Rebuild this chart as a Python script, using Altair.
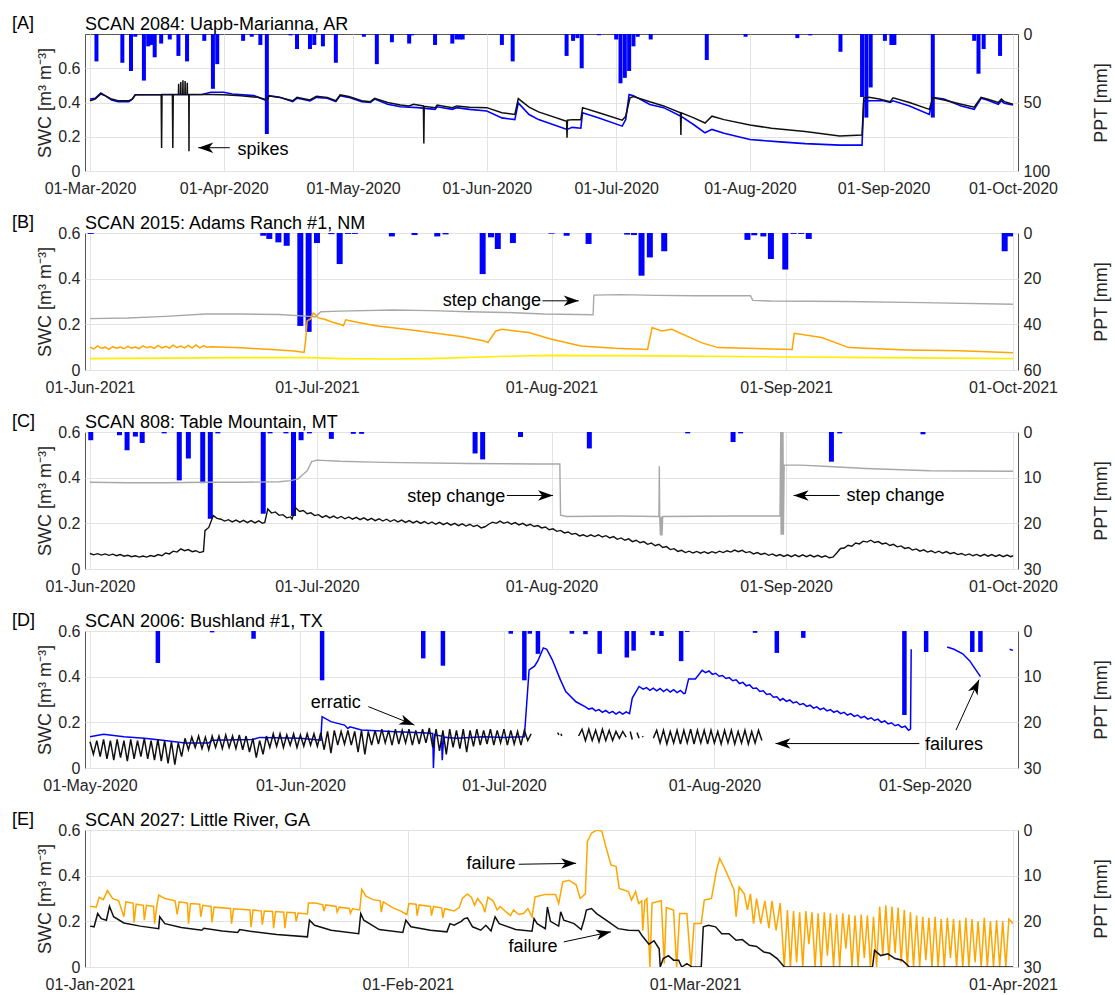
import math
from datetime import datetime, timezone
import altair as alt
import pandas as pd

FONT = "Liberation Sans"
W, H = 933, 137
DAY = 86400000
GRID = "#e3e3e3"
TXT = "#262626"
FRAME = "#555555"
BLUE = "#0000FF"
BLACK = "#111111"
GRAY = "#a8a8a8"
ORANGE = "#FFA500"
YELLOW = "#FFEE00"

# ---------------- Panel A: SCAN 2084 (day offsets from 2020-03-01) ----------------
A_ppt = [(1.5, 20), (7.5, 21), (9.5, 27), (10.5, 2), (12.5, 34), (13.5, 9), (14.2, 8), (15, 17), (16.5, 7),
         (18.5, 4), (20.5, 16), (22.5, 20), (26.5, 5), (28.5, 40), (29.5, 22), (35.5, 5), (37.5, 2), (39.5, 8),
         (41, 73), (46.5, 1), (48, 11), (51, 11), (52, 8), (54, 9), (57, 21), (63.5, 2), (66.5, 22), (70, 6),
         (74, 7), (74.6, 1), (80, 8), (84, 7), (85, 4), (85.8, 4), (86.4, 4), (95.5, 8), (98, 20), (110.5, 16),
         (112, 5), (113, 3), (114, 25), (118, 1), (122, 4), (123, 36), (124, 32), (125, 27), (126, 9), (127, 2),
         (130, 4), (143, 19), (152, 2), (164, 3), (167, 1), (174, 13), (179, 46), (180, 61), (181, 39),
         (184.3, 5), (185.8, 8), (186.5, 8), (195.4, 61), (205, 5), (206, 29), (207.2, 11), (211, 16)]
A_black = [(0, 0.41), (1.2, 0.42), (2.5, 0.45), (3.5, 0.44), (5, 0.42), (6.5, 0.41), (9, 0.41), (9.8, 0.42),
           (10.5, 0.445), (16.5, 0.447), (16.6, 0.135), (16.7, 0.447), (19.1, 0.447), (19.2, 0.135),
           (19.3, 0.447), (20.5, 0.447), (20.55, 0.51), (20.6, 0.447), (21.0, 0.447), (21.05, 0.52),
           (21.1, 0.447), (21.5, 0.447), (21.55, 0.53), (21.6, 0.447), (22.0, 0.447), (22.05, 0.525),
           (22.1, 0.447), (22.5, 0.447), (22.55, 0.515), (22.6, 0.447), (22.9, 0.447), (22.95, 0.115),
           (23.0, 0.447), (28, 0.447), (31, 0.445), (35, 0.44), (39, 0.43), (41, 0.415), (41.5, 0.438),
           (44, 0.43), (47, 0.41), (48, 0.43), (49, 0.425), (51, 0.415), (52.5, 0.437), (55, 0.43), (57, 0.41),
           (58, 0.445), (60, 0.435), (63, 0.41), (65, 0.405), (66, 0.425), (69, 0.40), (72, 0.385), (74, 0.38),
           (75, 0.39), (77.3, 0.38), (77.4, 0.16), (77.5, 0.378), (80, 0.37), (80.5, 0.385), (84, 0.37),
           (85, 0.38), (88, 0.372), (92, 0.37), (95.5, 0.34), (98.5, 0.33), (99.3, 0.423), (101.8, 0.373),
           (104, 0.345), (110.5, 0.29), (110.6, 0.194), (110.7, 0.297), (111.8, 0.30), (113.8, 0.30),
           (114.2, 0.37), (118, 0.34), (123.4, 0.297), (124.2, 0.32), (125.2, 0.427), (126, 0.435),
           (129.8, 0.404), (133, 0.38), (136.9, 0.34), (137, 0.21), (137.1, 0.34), (140, 0.31), (142.6, 0.28),
           (144.2, 0.32), (147, 0.30), (153, 0.268), (158, 0.25), (165.8, 0.23), (173.8, 0.204), (179, 0.21),
           (179.4, 0.427), (180.6, 0.43), (183, 0.42), (185.5, 0.405), (186.2, 0.427), (190, 0.40),
           (194.6, 0.36), (195.4, 0.427), (198, 0.415), (202, 0.39), (205, 0.373), (206.6, 0.43), (208, 0.42),
           (210.6, 0.40), (211.3, 0.42), (212, 0.405), (214, 0.39)]
A_blue = [(0, 0.42), (1.2, 0.425), (2.5, 0.455), (3.5, 0.44), (5, 0.415), (6.5, 0.405), (9, 0.405), (9.8, 0.42),
          (10.5, 0.445), (26, 0.447), (28, 0.46), (31, 0.46), (33, 0.45), (38, 0.44), (41, 0.41), (41.5, 0.44),
          (44, 0.43), (47, 0.405), (48, 0.425), (49, 0.42), (51, 0.41), (52.5, 0.43), (55, 0.425), (57, 0.405),
          (58, 0.44), (60, 0.43), (63, 0.405), (65, 0.40), (66, 0.42), (69, 0.39), (72, 0.375), (76, 0.37),
          (80, 0.36), (80.5, 0.375), (84, 0.36), (85, 0.37), (88, 0.36), (92, 0.35), (95.5, 0.31), (98.5, 0.30),
          (99.3, 0.398), (101.8, 0.33), (104, 0.30), (110.6, 0.243), (111.8, 0.255), (113.8, 0.25),
          (114.2, 0.34), (118, 0.31), (123.4, 0.262), (124.2, 0.30), (125, 0.447), (126, 0.44), (129.8, 0.388),
          (133, 0.37), (137, 0.32), (140, 0.27), (142.6, 0.223), (144.2, 0.243), (147, 0.22), (153, 0.184),
          (160, 0.17), (165.8, 0.16), (173.8, 0.151), (179, 0.151), (179.4, 0.408), (181, 0.41), (184, 0.41),
          (185.5, 0.40), (186.2, 0.41), (190, 0.38), (194.6, 0.33), (195.4, 0.43), (198, 0.42), (202, 0.38),
          (205, 0.36), (206.6, 0.425), (208, 0.415), (210.6, 0.39), (211.3, 0.41), (212, 0.395), (214, 0.385)]

# ---------------- Panel B: SCAN 2015 (day offsets from 2021-06-01) ----------------
B_ppt = [(0.1, 0.4), (22.9, 1.2), (23.7, 2.6), (24.9, 4.1), (26.0, 5.6), (27.8, 40.7), (28.9, 43.3), (30.0, 4.4),
         (31.9, 0.5), (33.0, 13.6), (34.1, 0.4), (35.0, 0.4), (39.9, 1.5), (42.9, 0.9), (45.9, 1.5), (47.0, 0.6),
         (51.9, 18), (53.0, 1.9), (53.9, 7), (55.9, 4.4), (61, 0.3), (63, 1.2), (65.9, 4.8), (71, 0.7),
         (71.9, 0.9), (72.9, 18.7), (74, 10.7), (75.9, 8), (86.9, 3), (87.8, 1), (89, 1.5), (90, 11.4),
         (91.9, 16), (93, 0.4), (94, 0.4), (95, 2.6), (120.9, 8), (121.6, 1.5)]
B_gray = [(0, 0.225), (5, 0.228), (10, 0.235), (15.2, 0.245), (20, 0.245), (25, 0.243), (29, 0.235),
          (29.8, 0.232), (30.5, 0.255), (33, 0.258), (40, 0.263), (45, 0.26), (50, 0.255), (55, 0.252),
          (60, 0.245), (66.5, 0.242), (66.6, 0.328), (70, 0.33), (75, 0.327), (80, 0.325), (87.3, 0.325),
          (87.6, 0.305), (90, 0.302), (100, 0.30), (110, 0.295), (122, 0.288)]
B_orange = [(0, 0.10), (0.5, 0.092), (1, 0.105), (1.5, 0.095), (2, 0.10), (2.5, 0.09), (3, 0.102), (3.5, 0.095),
            (4, 0.10), (4.5, 0.093), (5, 0.104), (5.5, 0.096), (6, 0.101), (6.5, 0.094), (7, 0.106), (7.5, 0.098),
            (8, 0.103), (8.5, 0.095), (9, 0.108), (9.5, 0.097), (10, 0.104), (10.5, 0.096), (11, 0.109),
            (11.5, 0.098), (12, 0.105), (12.5, 0.097), (13, 0.108), (13.5, 0.096), (14, 0.11), (14.5, 0.097),
            (15, 0.106), (15.5, 0.10), (16, 0.102), (20, 0.097), (24, 0.09), (27, 0.083), (28.3, 0.077),
            (28.5, 0.13), (28.7, 0.215), (29.2, 0.225), (29.5, 0.25), (29.7, 0.245), (30.2, 0.228), (31, 0.222),
            (32, 0.21), (33, 0.20), (33.5, 0.195), (33.8, 0.22), (34.5, 0.215), (36, 0.205), (38, 0.193),
            (40, 0.185), (43, 0.173), (46, 0.16), (49, 0.147), (52, 0.128), (52.6, 0.12), (53.2, 0.15),
            (53.6, 0.17), (54.4, 0.178), (56.2, 0.171), (58, 0.164), (61, 0.135), (64.9, 0.105), (69.4, 0.095),
            (73.7, 0.09), (74.3, 0.186), (75.5, 0.171), (76.9, 0.178), (80.8, 0.12), (83, 0.098), (88, 0.094),
            (92.8, 0.09), (93.1, 0.161), (96.7, 0.142), (100.3, 0.098), (108, 0.088), (115, 0.084), (122, 0.076)]
B_yellow = [(0, 0.05), (10, 0.052), (20, 0.054), (29, 0.054), (33, 0.05), (40, 0.048), (45, 0.05), (55, 0.06),
            (61, 0.064), (75, 0.062), (92, 0.057), (105, 0.054), (122, 0.05)]

# ---------------- Panel C: SCAN 808 (day offsets from 2020-06-01) ----------------
C_ppt = [(0.1, 1.8), (3.9, 0.7), (4.9, 4), (6, 1), (6.9, 2.4), (9.8, 0.3), (11.8, 10.6), (13, 5.8), (14.9, 11.2),
         (15.9, 19), (16.9, 0.3), (22.9, 17.9), (23.8, 0.3), (25.9, 0.3), (26.9, 18.4), (27.9, 1.8), (29, 0.3),
         (31.9, 1.5), (34.8, 0.4), (35.9, 0.4), (50.9, 4.7), (51.9, 6), (56.9, 1.1), (66, 3.6), (79, 0.3),
         (85, 2.2), (86, 0.3), (98, 6.5), (99.1, 0.3), (110.1, 0.5)]
C_gray = [(0, 0.38), (5, 0.378), (10, 0.378), (15, 0.38), (20, 0.38), (25, 0.382), (26.5, 0.387), (27.5, 0.395),
          (28.2, 0.415), (28.7, 0.43), (29.3, 0.47), (30, 0.477), (33, 0.472), (38.7, 0.467), (50, 0.462),
          (59, 0.46), (62.1, 0.46), (62.2, 0.236), (63, 0.23), (70, 0.232), (75.2, 0.23), (75.25, 0.45),
          (75.3, 0.23), (75.4, 0.147), (75.5, 0.23), (75.6, 0.147), (75.7, 0.23), (85, 0.232), (91.2, 0.232),
          (91.3, 0.6), (91.35, 0.15), (91.45, 0.6), (91.5, 0.15), (91.6, 0.6), (91.65, 0.15), (91.75, 0.455),
          (94, 0.455), (97, 0.45), (102.5, 0.44), (111, 0.43), (122, 0.428)]
# black sensor: wiggly diurnal record, read at its daily highs and lows
C_black = [(0, 0.068), (0.5, 0.062), (1, 0.067), (1.5, 0.061), (2, 0.066), (2.5, 0.06), (3, 0.065), (3.5, 0.058),
           (4, 0.063), (4.5, 0.056), (5, 0.06), (5.5, 0.054), (6, 0.058), (6.5, 0.052), (7, 0.057), (7.5, 0.052),
           (8, 0.059), (8.5, 0.055), (9, 0.063), (9.5, 0.058), (10, 0.07), (10.5, 0.066), (11, 0.078),
           (11.5, 0.074), (12, 0.088), (12.5, 0.08), (13, 0.085), (13.5, 0.076), (14, 0.08), (14.5, 0.072),
           (15, 0.077), (15.2, 0.168), (15.7, 0.182), (16.3, 0.234), (16.8, 0.222), (17.3, 0.218), (17.8, 0.21),
           (18.3, 0.216), (18.8, 0.206), (19.3, 0.214), (19.8, 0.205), (20.3, 0.213), (20.8, 0.203),
           (21.3, 0.212), (21.8, 0.202), (22.3, 0.211), (22.8, 0.20), (23.1, 0.204), (23.5, 0.263), (24.0, 0.245),
           (24.5, 0.25), (25, 0.235), (25.5, 0.238), (26, 0.224), (26.5, 0.228), (26.7, 0.219), (27.2, 0.267),
           (27.7, 0.252), (28.2, 0.256), (28.7, 0.242), (29.2, 0.246), (29.7, 0.234), (30.2, 0.238),
           (30.7, 0.226), (31.2, 0.234), (31.7, 0.224), (32.2, 0.232), (32.7, 0.222), (33.2, 0.23), (33.7, 0.22),
           (34.2, 0.228), (34.7, 0.218), (35.2, 0.226), (35.7, 0.216), (36.2, 0.224), (36.7, 0.214),
           (37.2, 0.222), (37.7, 0.212), (38.2, 0.22), (38.7, 0.21), (39.2, 0.218), (39.7, 0.208), (40.2, 0.216),
           (40.7, 0.206), (41.2, 0.214), (41.7, 0.204), (42.2, 0.212), (42.7, 0.202), (43.2, 0.21), (43.7, 0.20),
           (44.2, 0.208), (44.7, 0.198), (45.2, 0.206), (45.7, 0.196), (46.2, 0.204), (46.7, 0.194),
           (47.2, 0.202), (47.7, 0.192), (48.2, 0.20), (48.7, 0.19), (49.2, 0.198), (49.7, 0.188), (50.2, 0.196),
           (50.7, 0.186), (51.2, 0.192), (51.7, 0.18), (52.2, 0.185), (52.7, 0.196), (53.2, 0.205), (53.7, 0.20),
           (54.2, 0.21), (54.7, 0.20), (55.2, 0.206), (55.7, 0.196), (56.2, 0.203), (56.7, 0.193), (57.2, 0.20),
           (57.7, 0.19), (58.2, 0.196), (58.7, 0.186), (59.2, 0.19), (59.7, 0.18), (60.2, 0.184), (60.7, 0.172),
           (61.2, 0.176), (61.7, 0.165), (62.2, 0.169), (62.7, 0.158), (63.2, 0.162), (63.7, 0.152),
           (64.2, 0.156), (64.7, 0.145), (65.2, 0.15), (65.7, 0.142), (66.2, 0.15), (66.7, 0.142), (67.2, 0.15),
           (67.7, 0.14), (68.2, 0.146), (68.7, 0.136), (69.2, 0.142), (69.7, 0.13), (70.2, 0.136), (70.7, 0.126),
           (71.2, 0.132), (71.7, 0.12), (72.2, 0.126), (72.7, 0.115), (73.2, 0.12), (73.7, 0.108), (74.2, 0.114),
           (74.7, 0.102), (75.2, 0.108), (75.7, 0.094), (76.2, 0.098), (76.7, 0.085), (77.2, 0.089),
           (77.7, 0.077), (78.2, 0.082), (78.7, 0.072), (79.2, 0.078), (79.7, 0.07), (80.2, 0.077), (80.7, 0.069),
           (81.2, 0.076), (81.7, 0.068), (82.2, 0.076), (82.7, 0.07), (83.2, 0.078), (83.7, 0.072), (84.2, 0.08),
           (84.7, 0.074), (85.2, 0.083), (85.7, 0.076), (86.2, 0.082), (86.7, 0.072), (87.2, 0.076),
           (87.7, 0.066), (88.2, 0.072), (88.7, 0.064), (89.2, 0.069), (89.7, 0.06), (90.2, 0.066), (90.7, 0.057),
           (91.2, 0.063), (91.7, 0.055), (92.2, 0.062), (92.7, 0.054), (93.2, 0.062), (93.7, 0.054),
           (94.2, 0.062), (94.7, 0.054), (95.2, 0.061), (95.7, 0.053), (96.2, 0.06), (96.7, 0.052), (97.2, 0.058),
           (97.7, 0.049), (98.2, 0.052), (98.7, 0.07), (99.2, 0.09), (99.7, 0.092), (100.2, 0.104), (100.7, 0.10),
           (101.2, 0.114), (101.7, 0.11), (102.2, 0.122), (102.7, 0.118), (103.2, 0.126), (103.7, 0.116),
           (104.2, 0.12), (104.7, 0.11), (105.2, 0.114), (105.7, 0.103), (106.2, 0.108), (106.7, 0.097),
           (107.2, 0.101), (107.7, 0.09), (108.2, 0.094), (108.7, 0.083), (109.2, 0.088), (109.7, 0.078),
           (110.2, 0.084), (110.7, 0.074), (111.2, 0.08), (111.7, 0.071), (112.2, 0.078), (112.7, 0.069),
           (113.2, 0.076), (113.7, 0.067), (114.2, 0.072), (114.7, 0.063), (115.2, 0.068), (115.7, 0.06),
           (116.2, 0.066), (116.7, 0.058), (117.2, 0.064), (117.7, 0.056), (118.2, 0.064), (118.7, 0.056),
           (119.2, 0.063), (119.7, 0.055), (120.2, 0.062), (120.7, 0.054), (121.2, 0.061), (121.7, 0.054),
           (122, 0.058)]

# ---------------- Panel D: SCAN 2006 (day offsets from 2020-05-01) ----------------
D_ppt = [(10, 7), (18, 0.3), (24.1, 1.7), (34.2, 10.8), (49.1, 6), (52, 7.6), (62, 0.6), (64, 10.8), (64.8, 0.6),
         (66, 5), (71, 0.6), (73, 0.7), (75.1, 5), (79.1, 5.8), (80.1, 4.3), (82.9, 0.9), (84.2, 1.1), (87.1, 6.6),
         (88, 0.2), (98, 0.4), (101.2, 4.8), (105.1, 1.5), (120, 18.4), (123.2, 4.6), (130, 4.6), (131.2, 4.6)]
D_blue = [(0, 0.137), (2, 0.148), (5, 0.137), (8, 0.13), (11, 0.12), (14, 0.11), (17.5, 0.11), (18, 0.122),
          (24, 0.125), (25, 0.134), (31, 0.13), (34, 0.122), (34.2, 0.225), (35.5, 0.203), (37.5, 0.188),
          (38, 0.173), (38.3, 0.18), (40, 0.166), (45, 0.159), (49, 0.154), (50.5, 0.151), (50.6, 0.0),
          (50.8, 0.145), (51.8, 0.14), (51.9, 0.034), (52.1, 0.135), (54, 0.13), (58, 0.137), (61, 0.134),
          (64, 0.137), (64.7, 0.43), (65.5, 0.446), (66, 0.47), (66.8, 0.526), (67.3, 0.52), (68.1, 0.475),
          (69.3, 0.387), (70.1, 0.335), (71.6, 0.29), (73, 0.268), (73.5, 0.258), (74, 0.262), (74.5, 0.25),
          (75, 0.256), (75.5, 0.244), (76, 0.252), (76.5, 0.24), (77, 0.248), (77.5, 0.236), (78, 0.246),
          (78.5, 0.236), (79, 0.246), (79.5, 0.238), (79.9, 0.306), (80.9, 0.357), (81.5, 0.345), (82, 0.352),
          (82.5, 0.34), (83, 0.35), (83.5, 0.338), (84, 0.348), (84.5, 0.335), (85, 0.345), (85.5, 0.333),
          (86, 0.343), (86.5, 0.33), (87, 0.34), (87.5, 0.326), (87.7, 0.328), (88.2, 0.39), (89.2, 0.39),
          (90.2, 0.428), (90.7, 0.418), (91.2, 0.425), (91.7, 0.41), (92.2, 0.415), (92.7, 0.402), (93.2, 0.405),
          (93.7, 0.392), (94.2, 0.396), (94.7, 0.382), (95.2, 0.386), (95.7, 0.37), (96.2, 0.375), (96.7, 0.36),
          (97.2, 0.364), (97.7, 0.348), (98.2, 0.35), (98.7, 0.335), (99.2, 0.338), (99.7, 0.322), (100.2, 0.325),
          (100.7, 0.31), (101.2, 0.312), (101.7, 0.296), (102.1, 0.305), (102.6, 0.292), (103.1, 0.298),
          (103.6, 0.285), (104.1, 0.29), (104.6, 0.277), (105.1, 0.282), (105.6, 0.27), (106.1, 0.275),
          (106.6, 0.262), (107.1, 0.268), (107.6, 0.256), (108.1, 0.262), (108.6, 0.25), (109.1, 0.256),
          (109.6, 0.244), (110.1, 0.25), (110.6, 0.238), (111.1, 0.244), (111.6, 0.232), (112.1, 0.238),
          (112.6, 0.226), (113.1, 0.232), (113.6, 0.22), (114.1, 0.226), (114.6, 0.214), (115.1, 0.22),
          (115.6, 0.208), (116.1, 0.214), (116.6, 0.20), (117.1, 0.206), (117.6, 0.193), (118.1, 0.198),
          (118.6, 0.185), (119.1, 0.19), (119.6, 0.178), (120.1, 0.183), (120.6, 0.165), (120.9, 0.17),
          (121.0, 0.52), None,
          (126.3, 0.53), (127.3, 0.52), (128.6, 0.50), (129.6, 0.47), (131.2, 0.40), None,
          (135.5, 0.52), (136, 0.515)]
# black sensor: readings every half day (peak / trough) for the continuous stretches
D_black_run1 = [0.115, 0.06, 0.12, 0.05, 0.125, 0.04, 0.12, 0.035, 0.125, 0.045, 0.12, 0.03, 0.125, 0.04,
                0.12, 0.05, 0.13, 0.04, 0.12, 0.035, 0.125, 0.03, 0.12, 0.02, 0.115, 0.015, 0.11, 0.05,
                0.13, 0.08, 0.135, 0.09, 0.14, 0.085, 0.135, 0.08, 0.14, 0.09, 0.14, 0.085, 0.145, 0.09,
                0.14, 0.085, 0.145, 0.08, 0.14, 0.07, 0.13, 0.045, 0.12, 0.06, 0.14, 0.09, 0.15, 0.095,
                0.15, 0.09, 0.145, 0.10, 0.15, 0.09, 0.145, 0.095, 0.15, 0.10, 0.15, 0.095, 0.155, 0.08,
                0.16, 0.065, 0.165, 0.10, 0.16, 0.105, 0.165, 0.10, 0.16, 0.07, 0.165, 0.06, 0.16, 0.10,
                0.165, 0.105, 0.17, 0.11, 0.165, 0.10, 0.17, 0.105, 0.165, 0.11, 0.17, 0.10, 0.165, 0.105,
                0.17, 0.11, 0.175, 0.09, 0.17, 0.075, 0.165, 0.06, 0.17, 0.09, 0.165, 0.085, 0.17, 0.07,
                0.165, 0.095, 0.17, 0.10, 0.165, 0.105, 0.17, 0.10, 0.165, 0.11, 0.17, 0.10, 0.165, 0.105,
                0.16, 0.10, 0.165, 0.12, 0.15]
D_black_run2 = [0.14, 0.17, 0.12, 0.17, 0.12, 0.165, 0.115, 0.17, 0.12, 0.165, 0.12, 0.16, 0.13, 0.16, 0.135]
D_black_run3 = [0.13, 0.165, 0.11, 0.165, 0.105, 0.16, 0.11, 0.165, 0.105, 0.165, 0.11, 0.17, 0.105, 0.165,
                0.11, 0.165, 0.105, 0.165, 0.11, 0.16, 0.105, 0.165, 0.11, 0.165, 0.105, 0.16, 0.11, 0.165,
                0.105, 0.16, 0.11, 0.165, 0.12]
D_black_bits = [None, (68.9, 0.155), (69.1, 0.145), None, (69.4, 0.15), (69.5, 0.14), None,
                (79.6, 0.16), (79.9, 0.125), None, (80.6, 0.155), (80.9, 0.13), None, (81.4, 0.14), (81.5, 0.135)]

# ---------------- Panel E: SCAN 2027 (day offsets from 2021-01-01) ----------------
E_orange = [(0.0, 0.266), (0.6, 0.262), (0.9, 0.305), (1.3, 0.295), (1.7, 0.335), (2.2, 0.30), (2.8, 0.29),
            (3.3, 0.22), (3.5, 0.285), (4.2, 0.28), (4.3, 0.195), (4.5, 0.275), (5.2, 0.27), (5.3, 0.205),
            (5.5, 0.27), (6.2, 0.265), (6.3, 0.19), (6.5, 0.262), (6.7, 0.315), (7.3, 0.30), (8.3, 0.29),
            (8.5, 0.23), (8.7, 0.285), (9.5, 0.28), (9.6, 0.19), (9.8, 0.278), (10.7, 0.275), (10.8, 0.22),
            (11.0, 0.27), (11.8, 0.265), (11.9, 0.195), (12.1, 0.262), (13.7, 0.256), (13.8, 0.19), (14.0, 0.255),
            (15.6, 0.25), (15.7, 0.175), (15.9, 0.25), (16.7, 0.245), (16.8, 0.185), (17.0, 0.245), (17.8, 0.243),
            (17.9, 0.17), (18.1, 0.243), (18.9, 0.24), (19.0, 0.17), (19.2, 0.24), (20.0, 0.238), (20.1, 0.20),
            (20.3, 0.236), (21.2, 0.232), (21.3, 0.28), (22.0, 0.28), (22.7, 0.272), (22.8, 0.245), (23.0, 0.272),
            (24.0, 0.265), (24.1, 0.24), (24.3, 0.262), (25.3, 0.256), (25.4, 0.235), (25.6, 0.255), (26.3, 0.25),
            (26.5, 0.34), (26.9, 0.31), (27.6, 0.295), (28.3, 0.29), (28.4, 0.24), (28.6, 0.285), (29.5, 0.26),
            (30.3, 0.245), (30.9, 0.23), (31.1, 0.278), (31.8, 0.275), (31.9, 0.225), (32.1, 0.272), (33.2, 0.265),
            (33.3, 0.225), (33.5, 0.265), (34.3, 0.258), (34.4, 0.215), (34.6, 0.255), (35.5, 0.245), (36.0, 0.26),
            (36.3, 0.30), (36.8, 0.32), (37.2, 0.305), (37.5, 0.27), (37.8, 0.30), (38.3, 0.27), (38.5, 0.24),
            (38.8, 0.305), (39.3, 0.29), (39.7, 0.25), (40.0, 0.265), (40.6, 0.24), (41.0, 0.225), (41.3, 0.25),
            (41.8, 0.23), (42.3, 0.235), (42.7, 0.256), (43.1, 0.22), (43.4, 0.307), (44.4, 0.318), (45.4, 0.318),
            (45.7, 0.278), (46.1, 0.373), (46.7, 0.38), (47.4, 0.36), (47.8, 0.30), (48.3, 0.32), (48.5, 0.55),
            (48.9, 0.586), (49.4, 0.60), (49.9, 0.595), (50.3, 0.527), (50.8, 0.447), (51.3, 0.44), (51.6, 0.344),
            (52.5, 0.33), (52.8, 0.293), (53.2, 0.33), (53.5, 0.278), (53.8, 0.29), (53.9, 0.16), (54.1, 0.29),
            (54.3, 0.30), (54.6, 0.0), (54.8, 0.28), (55.7, 0.29), (56.0, 0.015), (56.2, 0.26), (56.9, 0.249),
            (57.2, 0.0), (57.5, 0.234), (58.2, 0.234), (58.6, 0.0), (58.9, 0.19), (59.6, 0.19), (59.9, 0.293),
            (60.6, 0.30), (61.1, 0.425), (61.4, 0.476), (61.8, 0.44), (62.1, 0.41), (62.4, 0.38), (62.8, 0.337),
            (63.0, 0.22), (63.3, 0.35), (63.8, 0.32), (64.1, 0.25), (64.4, 0.32), (64.7, 0.19), (65.0, 0.30),
            (65.4, 0.19), (65.8, 0.29), (66.2, 0.17), (66.5, 0.29), (66.9, 0.16), (67.3, 0.28), (67.7, 0.0),
            (68.0, 0.25), (68.3, 0.0), (68.6, 0.245), (68.9, 0.02), (69.2, 0.24), (69.5, 0.0), (69.8, 0.245),
            (70.1, 0.10), (70.4, 0.24), (70.7, 0.0), (71.0, 0.235), (71.3, 0.0), (71.6, 0.24), (71.9, 0.05),
            (72.2, 0.235), (72.5, 0.0), (72.8, 0.23), (73.1, 0.0), (73.4, 0.235), (73.7, 0.08), (74.0, 0.23),
            (74.3, 0.0), (74.6, 0.225), (74.9, 0.0), (75.2, 0.23), (75.5, 0.04), (75.8, 0.225), (76.1, 0.0),
            (76.4, 0.22), (76.7, 0.0), (77.0, 0.265), (77.3, 0.05), (77.6, 0.27), (77.9, 0.03), (78.2, 0.265),
            (78.5, 0.06), (78.8, 0.26), (79.1, 0.02), (79.4, 0.25), (79.7, 0.0), (80.0, 0.24), (80.3, 0.0),
            (80.6, 0.225), (80.9, 0.0), (81.2, 0.22), (81.5, 0.03), (81.8, 0.215), (82.1, 0.0), (82.4, 0.22),
            (82.7, 0.0), (83.0, 0.21), (83.3, 0.0), (83.6, 0.215), (83.9, 0.04), (84.2, 0.21), (84.5, 0.0),
            (84.8, 0.205), (85.1, 0.0), (85.4, 0.215), (85.7, 0.0), (86.0, 0.21), (86.3, 0.02), (86.6, 0.20),
            (86.9, 0.0), (87.2, 0.215), (87.5, 0.0), (87.8, 0.20), (88.1, 0.0), (88.4, 0.205), (88.7, 0.0),
            (89.0, 0.20), (89.3, 0.0), (89.6, 0.21), (90.0, 0.19)]
E_black = [(0, 0.179), (0.4, 0.176), (0.75, 0.234), (1.1, 0.212), (1.6, 0.205), (1.9, 0.266), (2.3, 0.22),
           (3.3, 0.193), (4.9, 0.179), (6.7, 0.168), (6.8, 0.22), (7.3, 0.19), (8.9, 0.173), (10.9, 0.161),
           (11.1, 0.17), (12.9, 0.158), (14.4, 0.151), (14.6, 0.164), (15.6, 0.157), (18.2, 0.142), (21.2, 0.132),
           (21.4, 0.205), (21.9, 0.183), (23.5, 0.161), (26.2, 0.146), (26.4, 0.234), (26.7, 0.205), (28.2, 0.164),
           (30.5, 0.151), (30.8, 0.205), (31.3, 0.176), (33.2, 0.161), (34.8, 0.154), (35.1, 0.19), (35.5, 0.183),
           (36.2, 0.20), (36.5, 0.212), (36.8, 0.215), (37.3, 0.176), (38.1, 0.161), (38.6, 0.183), (39.1, 0.158),
           (39.5, 0.22), (39.9, 0.19), (41.5, 0.164), (43.1, 0.157), (43.3, 0.212), (43.6, 0.19), (44.4, 0.168),
           (44.6, 0.263), (44.9, 0.20), (45.7, 0.179), (45.9, 0.242), (46.2, 0.205), (47.2, 0.19), (47.9, 0.164),
           (48.2, 0.21), (48.4, 0.249), (48.9, 0.256), (49.4, 0.234), (50.5, 0.20), (51.5, 0.168), (52.5, 0.161),
           (53.5, 0.16), (53.8, 0.139), (54.5, 0.10), (55.0, 0.115), (55.5, 0.08), (55.6, 0.0), (55.9, 0.037),
           (56.4, 0.05), (56.9, 0.03), (57.4, 0.03), (57.7, 0.0), (58.2, 0.015), (58.7, 0.0), (59.6, 0.0),
           (59.8, 0.176), (60.3, 0.183), (61.0, 0.176), (61.6, 0.146), (62.3, 0.146), (63.0, 0.117), (63.6, 0.12),
           (64.3, 0.095), (65.0, 0.09), (65.7, 0.066), (66.3, 0.06), (67.0, 0.037), (67.7, 0.0), (76.3, 0.0),
           (76.5, 0.073), (77.1, 0.05), (77.8, 0.058), (78.5, 0.037), (79.2, 0.03), (79.9, 0.0), (90.0, 0.0)]


def run(start, values, step=0.5):
    return [(start + i * step, v) for i, v in enumerate(values)]


D_black = run(0.0, D_black_run1) + D_black_bits + [None] + run(72.0, D_black_run2) + [None] + run(83.0, D_black_run3)

PANELS = [
    dict(letter="[A]", title="SCAN 2084: Uapb-Marianna, AR", start="2020-03-01", end="2020-10-01",
         ticks=["2020-03-01", "2020-04-01", "2020-05-01", "2020-06-01", "2020-07-01", "2020-08-01",
                "2020-09-01", "2020-10-01"],
         ymax=0.8, pmax=100, pticks=[0, 50, 100], ppt=A_ppt, bar=4,
         series=[(A_blue, BLUE, 1.6), (A_black, BLACK, 1.5)],
         texts=[(34.2, 0.125, "spikes", "left")],
         arrows=[(32.4, 0.136, 25.1, 0.136)]),
    dict(letter="[B]", title="SCAN 2015: Adams Ranch #1, NM", start="2021-06-01", end="2021-10-01",
         ticks=["2021-06-01", "2021-07-01", "2021-08-01", "2021-09-01", "2021-10-01"],
         ymax=0.6, pmax=60, pticks=[0, 20, 40, 60], ppt=B_ppt, bar=6,
         series=[(B_gray, GRAY, 1.4), (B_orange, ORANGE, 1.5), (B_yellow, YELLOW, 1.6)],
         texts=[(59.6, 0.303, "step change", "right")],
         arrows=[(59.8, 0.303, 64.6, 0.303)]),
    dict(letter="[C]", title="SCAN 808: Table Mountain, MT", start="2020-06-01", end="2020-10-01",
         ticks=["2020-06-01", "2020-07-01", "2020-08-01", "2020-09-01", "2020-10-01"],
         ymax=0.6, pmax=30, pticks=[0, 10, 20, 30], ppt=C_ppt, bar=5,
         series=[(C_gray, GRAY, 1.4), (C_black, BLACK, 1.4)],
         texts=[(54.9, 0.317, "step change", "right"), (100.0, 0.32, "step change", "left")],
         arrows=[(55.1, 0.322, 61.2, 0.322), (99.1, 0.322, 93.0, 0.322)]),
    dict(letter="[D]", title="SCAN 2006: Bushland #1, TX", start="2020-05-01", end="2020-09-14",
         ticks=["2020-05-01", "2020-06-01", "2020-07-01", "2020-08-01", "2020-09-01"],
         ymax=0.6, pmax=30, pticks=[0, 10, 20, 30], ppt=D_ppt, bar=4.5,
         series=[(D_blue, BLUE, 1.5), (D_black, BLACK, 1.5)],
         texts=[(36.2, 0.284, "erratic", "center"), (127.3, 0.10, "failures", "center")],
         arrows=[(41.0, 0.269, 47.8, 0.188), (122.2, 0.107, 101.0, 0.107), (127.6, 0.166, 131.0, 0.387)]),
    dict(letter="[E]", title="SCAN 2027: Little River, GA", start="2021-01-01", end="2021-04-01",
         ticks=["2021-01-01", "2021-02-01", "2021-03-01", "2021-04-01"],
         ymax=0.6, pmax=30, pticks=[0, 10, 20, 30], ppt=[], bar=4,
         series=[(E_orange, ORANGE, 1.5), (E_black, BLACK, 1.5)],
         texts=[(41.5, 0.45, "failure", "right"), (40.8, 0.088, "failure", "left")],
         arrows=[(41.8, 0.45, 47.4, 0.454), (46.2, 0.11, 50.8, 0.154)]),
]

HEAD = "M0,0L-2,-0.7L-1.45,0L-2,0.7Z"


def ms(s):
    return int(datetime.strptime(s, "%Y-%m-%d").replace(tzinfo=timezone.utc).timestamp() * 1000)


def line_df(points, t0):
    rows, seg = [], 0
    for p in points:
        if p is None:
            seg += 1
            continue
        rows.append({"t": t0 + p[0] * DAY, "v": p[1], "seg": seg})
    return pd.DataFrame(rows)


def build_panel(p):
    t0, t1 = ms(p["start"]), ms(p["end"])
    ndays = (t1 - t0) / DAY
    ticks = [ms(s) for s in p["ticks"]]
    xscale = alt.Scale(type="utc", domain=[t0, t1])
    xaxis = alt.Axis(values=ticks, format="%d-%b-%Y", title=None, grid=True, gridColor=GRID, gridWidth=1,
                     ticks=False, domain=False, labelFlush=False, labelOverlap=False, labelFont=FONT,
                     labelFontSize=16, labelColor=TXT, labelPadding=9)
    yscale = alt.Scale(domain=[0, p["ymax"]], nice=False, zero=False)
    yaxis = alt.Axis(orient="left", values=[0, 0.2, 0.4, 0.6], format=".1~f", title="SWC [m³ m⁻³]",
                     grid=True, gridColor=GRID, gridWidth=1, ticks=False, domain=False, labelFont=FONT,
                     labelFontSize=16, labelColor=TXT, labelPadding=5, titleFont=FONT, titleFontSize=18,
                     titleFontWeight="normal", titleColor=TXT, titleX=-40, titleY=H / 2, titleAngle=270,
                     titleAlign="center", titleBaseline="middle")

    def X(f):
        return alt.X(f"{f}:T", scale=xscale, axis=xaxis)

    def Y(f):
        return alt.Y(f"{f}:Q", scale=yscale, axis=yaxis)

    layers = []
    for pts, color, width in p["series"]:
        df = line_df(pts, t0)
        layers.append(alt.Chart(df).mark_line(color=color, strokeWidth=width, clip=True)
                      .encode(x=X("t"), y=Y("v"), detail="seg:N"))

    # arrows
    arows = []
    for (d1, v1, d2, v2) in p["arrows"]:
        dx = (d2 - d1) * W / ndays
        dy = -(v2 - v1) * H / p["ymax"]
        ang = math.degrees(math.atan2(dy, dx)) % 360
        arows.append({"t1": t0 + d1 * DAY, "v1": v1, "t2": t0 + d2 * DAY, "v2": v2, "ang": ang})
    adf = pd.DataFrame(arows)
    layers.append(alt.Chart(adf).mark_rule(color="black", strokeWidth=1)
                  .encode(x=X("t1"), x2=alt.X2("t2:T"), y=Y("v1"), y2=alt.Y2("v2:Q")))
    layers.append(alt.Chart(adf).mark_point(shape=HEAD, filled=True, color="black", size=225, opacity=1,
                                            strokeWidth=0)
                  .encode(x=X("t2"), y=Y("v2"), angle=alt.Angle("ang:Q", scale=None)))

    for align in ["left", "right", "center"]:
        rows = [{"t": t0 + d * DAY, "v": v, "s": s} for (d, v, s, a) in p["texts"] if a == align]
        if rows:
            layers.append(alt.Chart(pd.DataFrame(rows))
                          .mark_text(font=FONT, fontSize=18, align=align, baseline="middle", color="black")
                          .encode(x=X("t"), y=Y("v"), text="s:N"))

    # panel letter and station title
    layers.append(alt.Chart(pd.DataFrame({"l": [p["letter"]]}))
                  .mark_text(font=FONT, fontSize=18, align="left", baseline="middle", color="black")
                  .encode(x=alt.value(-73), y=alt.value(-10), text="l:N"))
    layers.append(alt.Chart(pd.DataFrame({"l": [p["title"]]}))
                  .mark_text(font=FONT, fontSize=18, align="left", baseline="middle", color="black")
                  .encode(x=alt.value(0), y=alt.value(-9), text="l:N"))

    left = alt.layer(*layers)

    if p["ppt"]:
        pdf = pd.DataFrame([{"t": t0 + d * DAY, "p": v} for d, v in p["ppt"]])
        bar_op = 1
    else:
        pdf = pd.DataFrame([{"t": t0, "p": 0}])
        bar_op = 0
    paxis = alt.Axis(orient="right", values=p["pticks"], format="d", title="PPT [mm]", grid=False, ticks=False,
                     domain=False, labelFont=FONT, labelFontSize=16, labelColor=TXT, labelPadding=5,
                     titleFont=FONT, titleFontSize=18, titleFontWeight="normal", titleColor=TXT,
                     titleX=83, titleY=H / 2, titleAngle=270, titleAlign="center", titleBaseline="middle")
    bars = alt.Chart(pdf).mark_bar(color=BLUE, size=p["bar"], opacity=bar_op).encode(
        x=X("t"),
        y=alt.Y("p:Q", scale=alt.Scale(domain=[0, p["pmax"]], reverse=True, nice=False), axis=paxis))

    return alt.layer(bars, left).resolve_scale(y="independent").properties(width=W, height=H)


chart = alt.vconcat(*[build_panel(p) for p in PANELS], spacing=16).properties(
    padding={"left": 11, "top": 14, "right": 2, "bottom": 0}, background="white"
).configure_view(stroke=FRAME, strokeWidth=1)

chart.save("out.html", embed_options={"renderer": "svg", "actions": False})
